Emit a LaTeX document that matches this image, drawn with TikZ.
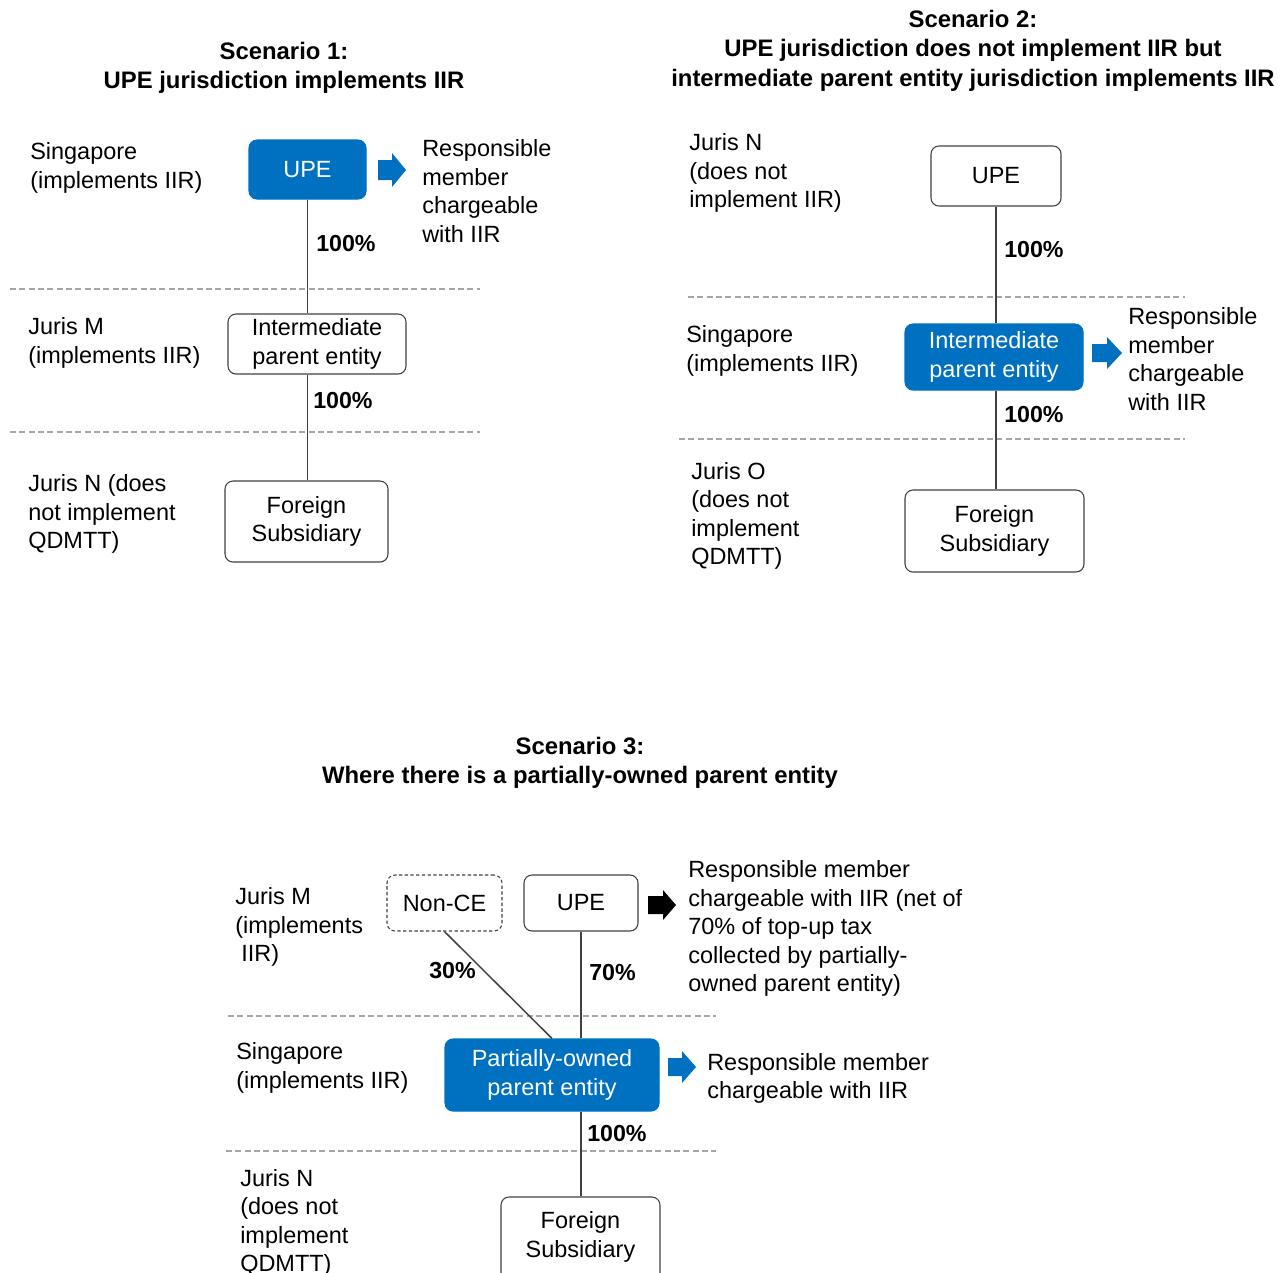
\documentclass[tikz,border=0pt]{standalone}
\usepackage{fontspec}
\setmainfont{Liberation Sans}
\definecolor{ablue}{HTML}{0070C0}
\definecolor{linegray}{HTML}{404040}
\definecolor{dashgray}{HTML}{A6A6A6}
\begin{document}
\begin{tikzpicture}[x=0.75pt,y=-0.75pt,
  fnt/.style={font=\fontsize{17.6}{21.4}\selectfont},
  txt/.style={fnt, inner sep=0pt, align=left, anchor=west, execute at begin node=\strut, execute at end node=\strut, yshift=-1.8pt},
  pct/.style={inner sep=0pt, anchor=west, font=\fontsize{17.4}{21.4}\selectfont\bfseries, text height=16.2pt, text depth=3.9pt},
  ttl/.style={inner sep=0pt, align=center, font=\fontsize{17.9}{21.8}\selectfont\bfseries, execute at begin node=\strut, execute at end node=\strut, yshift=-2.4pt},
  sz/.style 2 args={minimum width=#1*0.75pt, minimum height=#2*0.75pt},
  box/.style={fnt, draw=linegray, line width=0.8pt, rounded corners=6pt, align=center, inner sep=0pt},
  bluebox/.style={box, fill=ablue, draw=ablue, text=white},
  dbox/.style={box, dashed, dash pattern=on 2.5pt off 1.8pt},
  link/.style={draw=linegray, line width=1.1pt},
  sep/.style={draw=dashgray, line width=1.1pt, dash pattern=on 4.5pt off 2.5pt}]
\useasboundingbox (0,0) rectangle (1280,1272);

% ---------- Scenario 1 ----------
\node[ttl] (t1) at (284,66.5) {Scenario 1:\\UPE jurisdiction implements IIR};
\node[txt] (sg1) at (30,167.5) {Singapore\\(implements IIR)};
\node[bluebox, sz={117}{59}] (upe1) at (307.5,169.5) {UPE};
\fill[ablue] (378,160) -- (392,160) -- (392,153) -- (406,170) -- (392,187) -- (392,180) -- (378,180) -- cycle;
\node[txt] (rm1) at (422,193) {Responsible\\member\\chargeable\\with IIR};
\node[pct] (p1a) at (316,243) {100\%};
\draw[sep] (10,289) -- (480,289);
\node[txt] (jm1) at (28,342.5) {Juris M\\(implements IIR)};
\node[box, sz={178}{60}] (int1) at (317,344) {Intermediate\\parent entity};
\node[pct] (p1b) at (313,400) {100\%};
\draw[sep] (10,432) -- (480,432);
\node[txt] (jn1) at (28,513.5) {Juris N (does\\not implement\\QDMTT)};
\node[box, sz={163}{81}] (for1) at (306.5,521.5) {Foreign\\Subsidiary};
\draw[link] (upe1.south) -- (upe1.south |- int1.north);
\draw[link] (upe1.south |- int1.south) -- (upe1.south |- for1.north);

% ---------- Scenario 2 ----------
\node[ttl] (t2) at (973,49.5) {Scenario 2:\\UPE jurisdiction does not implement IIR but\\intermediate parent entity jurisdiction implements IIR};
\node[txt] (jn2) at (689,172.5) {Juris N\\(does not\\implement IIR)};
\node[box, sz={130}{60}] (upe2) at (996,176) {UPE};
\node[pct] (p2a) at (1004,249) {100\%};
\draw[sep] (688,297) -- (1185,297);
\node[txt] (sg2) at (686,350.5) {Singapore\\(implements IIR)};
\node[bluebox, sz={178}{66}] (int2) at (994,357) {Intermediate\\parent entity};
\fill[ablue] (1092,344) -- (1107,344) -- (1107,337) -- (1122,353) -- (1107,369) -- (1107,362) -- (1092,362) -- cycle;
\node[txt] (rm2) at (1128,361) {Responsible\\member\\chargeable\\with IIR};
\node[pct] (p2b) at (1004,414) {100\%};
\draw[sep] (679,439) -- (1185,439);
\node[txt] (jo2) at (691,515.5) {Juris O\\(does not\\implement\\QDMTT)};
\node[box, sz={179}{82}] (for2) at (994.5,531) {Foreign\\Subsidiary};
\draw[link] (upe2.south) -- (upe2.south |- int2.north);
\draw[link] (upe2.south |- int2.south) -- (upe2.south |- for2.north);

% ---------- Scenario 3 ----------
\node[ttl] (t3) at (580,761.5) {Scenario 3:\\Where there is a partially-owned parent entity};
\node[txt] (jm3) at (235,926.5) {Juris M\\(implements\\\hspace*{4.5pt}IIR)};
\node[dbox, sz={115}{56}] (nce) at (444.5,903) {Non-CE};
\node[box, sz={114}{56}] (upe3) at (581,903) {UPE};
\fill[black] (648,896) -- (663,896) -- (663,890) -- (676,905) -- (663,920) -- (663,914) -- (648,914) -- cycle;
\node[txt] (rm3) at (688,928) {Responsible member\\chargeable with IIR (net of\\70\% of top-up tax\\collected by partially-\\owned parent entity)};
\node[pct] (p30) at (429,970) {30\%};
\node[pct] (p70) at (589,972) {70\%};
\draw[sep] (228,1016) -- (716,1016);
\node[txt] (sg3) at (236,1067.5) {Singapore\\(implements IIR)};
\node[bluebox, sz={214}{72}] (po) at (552,1075) {Partially-owned\\parent entity};
\fill[ablue] (668,1058) -- (682,1058) -- (682,1051) -- (696,1067) -- (682,1083) -- (682,1076) -- (668,1076) -- cycle;
\node[txt] (rm3b) at (707,1078) {Responsible member\\chargeable with IIR};
\node[pct] (p100) at (587,1133) {100\%};
\draw[sep] (226,1151) -- (716,1151);
\node[txt] (jn3) at (240,1222.5) {Juris N\\(does not\\implement\\QDMTT)};
\node[box, sz={159}{93}] (for3) at (580.5,1243.5) {};
\node[fnt, inner sep=0pt, align=center] (for3t) at (580.5,1237) {Foreign\\Subsidiary};
\draw[link] (nce.south) -- (po.north);
\draw[link] (upe3.south) -- (upe3.south |- po.north);
\draw[link] (upe3.south |- po.south) -- (upe3.south |- for3.north);
\end{tikzpicture}
\end{document}
